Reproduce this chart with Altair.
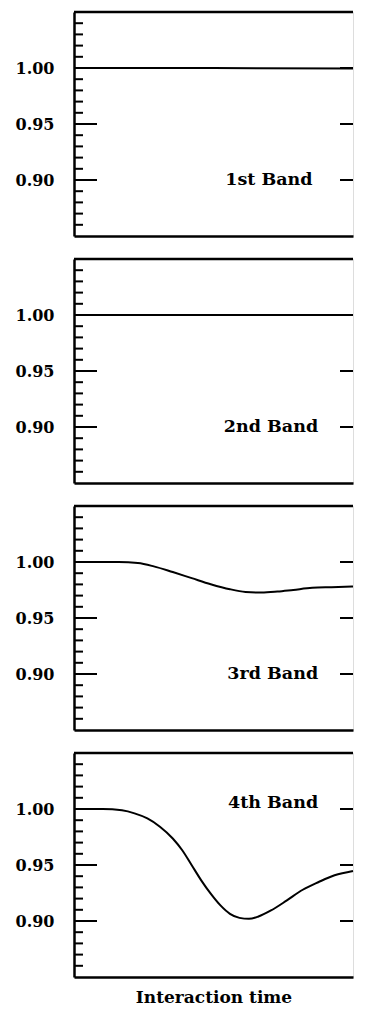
import altair as alt
import pandas as pd

# ---- data ----
band1_t = [0, 50, 100]
band1_v = [1.000, 1.000, 0.9996]

band2_t = [0, 50, 100]
band2_v = [1.000, 1.000, 1.000]

band3_t = [0, 16.0, 22.9, 28.6, 35.4, 42.2, 49.0, 55.9, 61.5, 67.2, 72.9, 78.6, 85.4, 92.3, 100]
band3_v = [1.000, 1.000, 0.9991, 0.9961, 0.9910, 0.9856, 0.9802, 0.9757, 0.9733, 0.9727, 0.9736,
           0.9751, 0.9769, 0.9775, 0.9781]

band4_t = [0, 10.3, 17.2, 21.7, 26.3, 30.8, 35.4, 38.8, 42.2, 45.6, 49.0, 52.5, 55.9, 59.3, 62.7,
           66.1, 70.6, 76.3, 82.0, 87.7, 93.4, 100]
band4_v = [1.000, 1.000, 0.9988, 0.9961, 0.9916, 0.9842, 0.9737, 0.9632, 0.9498, 0.9363, 0.9244,
           0.9139, 0.9064, 0.9028, 0.9019, 0.9040, 0.9094, 0.9184, 0.9279, 0.9348, 0.9408, 0.9447]

band_names = ["1st Band", "2nd Band", "3rd Band", "4th Band"]
label_t = [85.5, 87.5, 87.5, 87.5]
label_v = [0.900, 0.900, 0.900, 1.0053]

major_ticks = [0.90, 0.95, 1.00]
minor_ticks = [0.86, 0.87, 0.88, 0.89, 0.91, 0.92, 0.93, 0.94, 0.96, 0.97, 0.98, 0.99,
               1.01, 1.02, 1.03, 1.04]
y_domain = [0.85, 1.05]
x_domain = [0, 100]
x_title = "Interaction time"

series_t = [band1_t, band2_t, band3_t, band4_t]
series_v = [band1_v, band2_v, band3_v, band4_v]

FONT = "DejaVu Serif"
W, H = 279, 224


def panel(i):
    last = i == 3
    x_enc = alt.X(
        "t:Q",
        scale=alt.Scale(domain=x_domain, nice=False, zero=False),
        axis=alt.Axis(labels=False, ticks=False, grid=False, domainWidth=2.5,
                      domainColor="black", title=x_title if last else None,
                      titleFont=FONT, titleFontSize=17, titleFontWeight="bold",
                      titlePadding=12, titleColor="black"),
    )
    y_enc = alt.Y(
        "v:Q",
        scale=alt.Scale(domain=y_domain, nice=False, zero=False),
        axis=alt.Axis(values=major_ticks, format=".2f", ticks=False, grid=False,
                      domainWidth=2.5, domainColor="black", labelPadding=20,
                      labelFont=FONT, labelFontSize=16, labelFontWeight="bold",
                      labelColor="black", minExtent=64, maxExtent=64, title=None),
    )
    curve = alt.Chart(pd.DataFrame({"t": series_t[i], "v": series_v[i]})).mark_line(
        color="black", strokeWidth=2, interpolate="monotone"
    ).encode(x=x_enc, y=y_enc)

    major_df = pd.DataFrame({"v": major_ticks})
    minor_df = pd.DataFrame({"v": minor_ticks})
    x_lo = alt.datum(x_domain[0])
    x_hi = alt.datum(x_domain[1])
    left_major = alt.Chart(major_df).mark_rule(color="black", strokeWidth=2, x2Offset=23).encode(
        y=alt.Y("v:Q"), x=x_lo, x2=x_lo)
    left_minor = alt.Chart(minor_df).mark_rule(color="black", strokeWidth=2, x2Offset=9).encode(
        y=alt.Y("v:Q"), x=x_lo, x2=x_lo)
    right_major = alt.Chart(major_df).mark_rule(color="black", strokeWidth=2, xOffset=-13).encode(
        y=alt.Y("v:Q"), x=x_hi, x2=x_hi)
    top = alt.Chart(pd.DataFrame({"v": [y_domain[1]]})).mark_rule(
        color="black", strokeWidth=2.5).encode(
        y=alt.Y("v:Q"), x=x_lo, x2=x_hi)
    label = alt.Chart(pd.DataFrame({"t": [label_t[i]], "v": [label_v[i]], "name": [band_names[i]]})).mark_text(
        font=FONT, fontSize=17.5, fontWeight="bold", color="black", align="right", baseline="middle"
    ).encode(x=x_enc, y=y_enc, text="name:N")

    return alt.layer(curve, left_major, left_minor, right_major, top, label).properties(width=W, height=H)


chart = alt.vconcat(*[panel(i) for i in range(4)], spacing=20).properties(
    padding={"top": 2, "left": 1, "right": 0, "bottom": 0}
).configure_view(stroke=None).configure(background="white")

chart.save("out.html", embed_options={"renderer": "svg", "actions": False})
